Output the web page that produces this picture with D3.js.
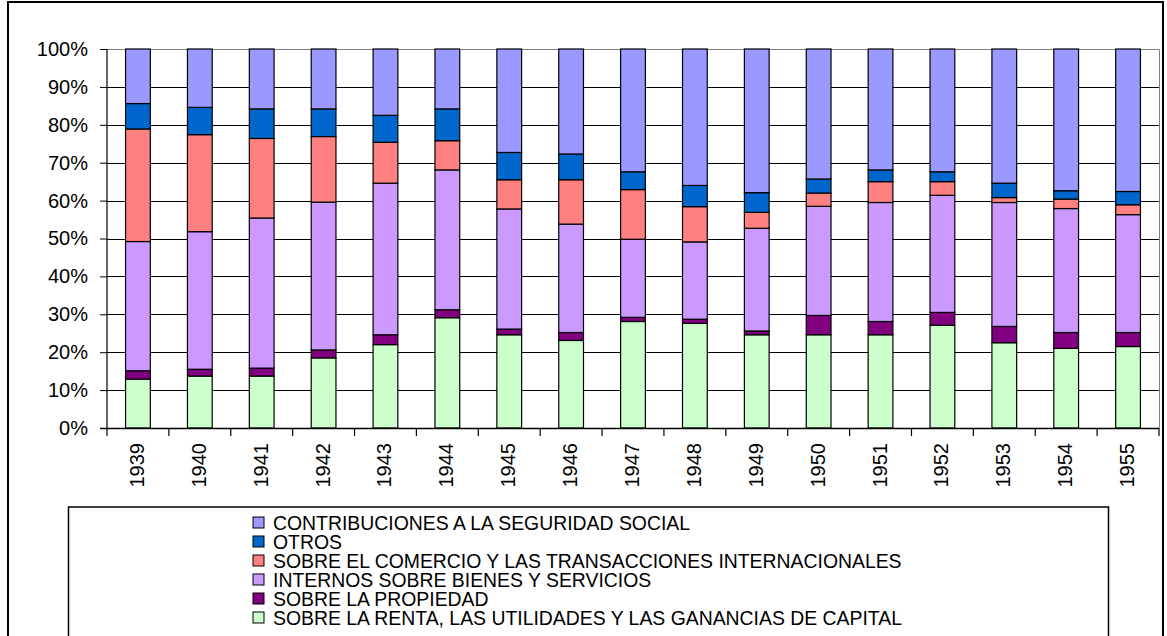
<!DOCTYPE html>
<html>
<head>
<meta charset="utf-8">
<script src="https://cdn.jsdelivr.net/npm/d3@7"></script>
<style>
  html, body { margin: 0; padding: 0; background: #fff; }
  svg { display: block; font-family: "Liberation Sans", Arial, sans-serif; }
</style>
</head>
<body>
<div id="chart"></div>
<script>
// years on the x axis
const years = ['1939','1940','1941','1942','1943','1944','1945','1946','1947','1948',
               '1949','1950','1951','1952','1953','1954','1955'];

// shares (%) per category, bottom to top of the stack
const renta     = [12.9, 13.7, 13.7, 18.5, 22.0, 29.1, 24.6, 23.1, 28.1, 27.6, 24.6, 24.6, 24.6, 27.1, 22.5, 21.0, 21.5];
const propiedad = [ 2.2,  1.8,  2.1,  2.1,  2.6,  2.1,  1.5,  2.1,  1.1,  1.1,  1.0,  5.1,  3.5,  3.4,  4.3,  4.2,  3.7];
const internos  = [34.1, 36.3, 39.6, 39.0, 40.0, 36.9, 31.7, 28.6, 20.6, 20.4, 27.1, 28.8, 31.4, 30.9, 32.7, 32.7, 31.1];
const comercio  = [29.7, 25.6, 21.0, 17.3, 10.8,  7.7,  7.7, 11.7, 13.1,  9.3,  4.2,  3.5,  5.5,  3.6,  1.3,  2.5,  2.6];
const otros     = [ 6.7,  7.2,  7.8,  7.3,  7.1,  8.4,  7.2,  6.8,  4.7,  5.6,  5.2,  3.7,  3.1,  2.6,  3.8,  2.2,  3.5];
const contrib   = [14.4, 15.4, 15.8, 15.8, 17.5, 15.8, 27.3, 27.7, 32.4, 36.0, 37.9, 34.3, 31.9, 32.4, 35.4, 37.4, 37.6];

const seriesNames = [
  'SOBRE LA RENTA, LAS UTILIDADES Y LAS GANANCIAS DE CAPITAL',
  'SOBRE LA PROPIEDAD',
  'INTERNOS SOBRE BIENES Y SERVICIOS',
  'SOBRE EL COMERCIO Y LAS TRANSACCIONES INTERNACIONALES',
  'OTROS',
  'CONTRIBUCIONES A LA SEGURIDAD SOCIAL'
];
const seriesValues = [renta, propiedad, internos, comercio, otros, contrib];
const seriesColors = ['#CCFFCC', '#800080', '#CC99FF', '#FF8080', '#0066CC', '#9999FF'];
const yTicks = [0, 10, 20, 30, 40, 50, 60, 70, 80, 90, 100];

const W = 1167, H = 636;
const plot = { left: 107, right: 1159, top: 49, bottom: 428 };

const svg = d3.select('#chart').append('svg')
  .attr('width', W).attr('height', H);

// outer chart border
svg.append('rect')
  .attr('x', 8).attr('y', 2)
  .attr('width', 1155).attr('height', 660)
  .attr('fill', '#fff').attr('stroke', '#000').attr('stroke-width', 2);

const x = d3.scaleBand().domain(years).range([plot.left, plot.right]).paddingInner(0.6).paddingOuter(0.3);
const xCat = d3.scaleBand().domain(years).range([plot.left, plot.right]);
const y = d3.scaleLinear().domain([0, 100]).range([plot.bottom, plot.top]);

// gridlines
svg.append('g')
  .selectAll('line')
  .data(yTicks.filter(d => d > 0 && d < 100))
  .enter().append('line')
  .attr('x1', plot.left).attr('x2', plot.right)
  .attr('y1', d => Math.round(y(d)) + 0.5).attr('y2', d => Math.round(y(d)) + 0.5)
  .attr('stroke', '#000').attr('stroke-width', 1);

// plot area border top/right (gray)
svg.append('path')
  .attr('d', `M${plot.left},${plot.top + 0.5}H${plot.right + 0.5}V${plot.bottom}`)
  .attr('fill', 'none').attr('stroke', '#808080').attr('stroke-width', 1);

// stacked data
const table = years.map((yr, i) => {
  const row = { year: yr };
  seriesNames.forEach((n, k) => { row[n] = seriesValues[k][i]; });
  return row;
});
const stack = d3.stack().keys(seriesNames).offset(d3.stackOffsetExpand);
const layers = stack(table);

svg.append('g')
  .selectAll('g')
  .data(layers)
  .enter().append('g')
  .attr('fill', (d, i) => seriesColors[i])
  .selectAll('rect')
  .data(d => d)
  .enter().append('rect')
  .attr('x', d => x(d.data.year))
  .attr('width', x.bandwidth())
  .attr('y', d => y(d[1] * 100))
  .attr('height', d => y(d[0] * 100) - y(d[1] * 100))
  .attr('stroke', '#000').attr('stroke-width', 1.2);

// y axis
const yAxis = svg.append('g')
  .attr('transform', `translate(${plot.left},0)`)
  .call(d3.axisLeft(y).tickValues(yTicks).tickSize(7).tickPadding(12).tickFormat(d => d + '%'));
yAxis.select('.domain').attr('d', `M0,${plot.top}V${plot.bottom + 8}`).attr('stroke', '#000').attr('stroke-width', 1.2);
yAxis.selectAll('.tick line').attr('stroke', '#000');
yAxis.selectAll('.tick text')
  .attr('font-size', 20).attr('fill', '#000')
  .attr('font-family', '"Liberation Sans", Arial, sans-serif');

// x axis: ticks on category boundaries
svg.append('line')
  .attr('x1', plot.left - 7).attr('x2', plot.right)
  .attr('y1', plot.bottom + 0.5).attr('y2', plot.bottom + 0.5)
  .attr('stroke', '#000').attr('stroke-width', 1.5);
svg.append('g')
  .selectAll('line')
  .data(years)
  .enter().append('line')
  .attr('x1', d => xCat(d) + xCat.bandwidth()).attr('x2', d => xCat(d) + xCat.bandwidth())
  .attr('y1', plot.bottom).attr('y2', plot.bottom + 8)
  .attr('stroke', '#000').attr('stroke-width', 1.2);

svg.append('g')
  .selectAll('text')
  .data(years)
  .enter().append('text')
  .attr('transform', d => `translate(${xCat(d) + xCat.bandwidth() / 2 - 1},443) rotate(-90)`)
  .attr('text-anchor', 'end')
  .attr('dominant-baseline', 'central')
  .attr('font-size', 20)
  .text(d => d);

// legend
const legend = svg.append('g');
legend.append('rect')
  .attr('x', 68.5).attr('y', 507)
  .attr('width', 1040).attr('height', 160)
  .attr('fill', '#fff').attr('stroke', '#000').attr('stroke-width', 1.5);

const legendOrder = d3.range(seriesNames.length).reverse();
const items = legend.selectAll('g.item')
  .data(legendOrder)
  .enter().append('g')
  .attr('class', 'item')
  .attr('transform', (d, i) => `translate(253,${522.5 + i * 19})`);
items.append('rect')
  .attr('x', 0).attr('y', -5.5)
  .attr('width', 11).attr('height', 11)
  .attr('fill', d => seriesColors[d])
  .attr('stroke', '#000').attr('stroke-width', 1);
items.append('text')
  .attr('x', 20).attr('y', 0)
  .attr('dominant-baseline', 'central')
  .attr('font-size', 19.4)
  .text(d => seriesNames[d]);
</script>
</body>
</html>
